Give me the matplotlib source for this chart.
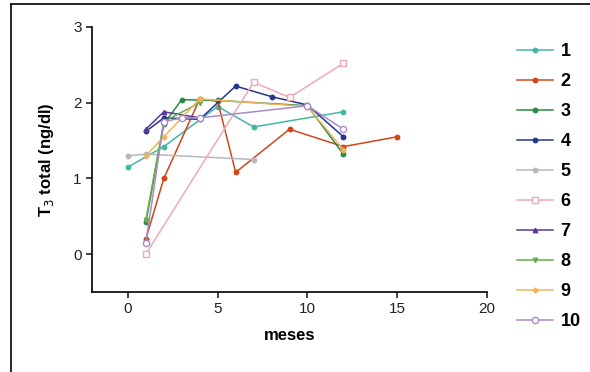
import matplotlib.pyplot as plt
from matplotlib.lines import Line2D

plt.rcParams['font.family'] = ['Liberation Sans', 'DejaVu Sans']

# patient series: months vs total T3 (ng/dl)
x1 = [0, 2, 5, 7, 12]
y1 = [1.15, 1.42, 1.95, 1.68, 1.88]
x2 = [1, 2, 4, 5, 6, 9, 12, 15]
y2 = [0.2, 1.0, 2.05, 2.02, 1.08, 1.65, 1.42, 1.55]
x3 = [1, 2, 3, 5, 10, 12]
y3 = [0.42, 1.72, 2.04, 2.03, 1.96, 1.32]
x4 = [1, 2, 4, 6, 8, 10, 12]
y4 = [1.62, 1.8, 1.78, 2.22, 2.08, 1.97, 1.55]
x5 = [0, 1, 7]
y5 = [1.3, 1.32, 1.25]
x6 = [1, 7, 9, 12]
y6 = [0.0, 2.27, 2.07, 2.52]
x7 = [1, 2, 4]
y7 = [1.65, 1.88, 1.8]
x8 = [1, 2, 4]
y8 = [0.45, 1.75, 2.0]
x9 = [1, 2, 4, 10, 12]
y9 = [1.3, 1.55, 2.05, 1.95, 1.38]
x10 = [1, 2, 3, 4, 10, 12]
y10 = [0.15, 1.75, 1.8, 1.8, 1.96, 1.65]

labels = ['1', '2', '3', '4', '5', '6', '7', '8', '9', '10']
xs = [x1, x2, x3, x4, x5, x6, x7, x8, x9, x10]
ys = [y1, y2, y3, y4, y5, y6, y7, y8, y9, y10]

colors = ['#45b5a5', '#d2451a', '#2a8a45', '#263591', '#b8b8b8',
          '#f0a8b8', '#5a3a95', '#6aae4a', '#f2b45a', '#a88cc8']
markers = ['o', 'o', 'o', 'o', 'o', 's', '^', 'v', 'P', 'o']
filled = [True, True, True, True, True, False, True, True, True, False]

fig = plt.figure(figsize=(5.9, 3.72), dpi=100)
ax = fig.add_axes([92 / 590, 80 / 372, 395 / 590, 265 / 372])

for i in range(10):
    ax.plot(xs[i], ys[i], color=colors[i], lw=1.1, marker=markers[i],
            markersize=3.2 if filled[i] else 4.5,
            markerfacecolor=colors[i] if filled[i] else 'white',
            markeredgecolor=colors[i], label=labels[i])

ax.set_xlim(-2, 20)
ax.set_ylim(-0.5, 3)
ax.set_xticks([0, 5, 10, 15, 20])
ax.set_yticks([0, 1, 2, 3])
ax.spines['top'].set_visible(False)
ax.spines['right'].set_visible(False)
ax.spines['left'].set_linewidth(1.2)
ax.spines['bottom'].set_linewidth(1.2)
ax.tick_params(labelsize=11, width=1.2, length=4, colors='#222222')
ax.set_xlabel('meses', fontsize=12, fontweight='bold', labelpad=8)
ax.set_ylabel('T$_3$ total (ng/dl)', fontsize=12, fontweight='bold', labelpad=12)

ax.legend(loc='upper left', bbox_to_anchor=(1.035, 1.0), frameon=False,
          handlelength=2.0, labelspacing=0.72, handletextpad=0.4,
          prop={'size': 13, 'weight': 'bold'})

# outer frame (left and top)
fig.add_artist(Line2D([11 / 590, 11 / 590], [0, 1 - 4 / 372], color='black', lw=1.2))
fig.add_artist(Line2D([11 / 590, 1], [1 - 4 / 372, 1 - 4 / 372], color='black', lw=1.2))

fig.savefig('out.png', dpi=100)
